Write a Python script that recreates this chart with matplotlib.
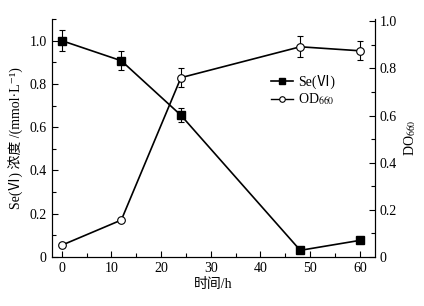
import matplotlib
matplotlib.use("Agg")
import matplotlib.pyplot as plt
from matplotlib.ticker import MultipleLocator
from matplotlib.lines import Line2D

plt.rcParams['font.family'] = ['Liberation Serif', 'Noto Sans CJK SC', 'DejaVu Serif']
plt.rcParams['mathtext.fontset'] = 'stix'

time_h = [0, 12, 24, 48, 60]
se_vi = [1.0, 0.907, 0.655, 0.031, 0.077]
se_err = [0.05, 0.045, 0.032, 0.0, 0.0]
od660 = [0.05, 0.157, 0.761, 0.892, 0.875]
od_err = [0.008, 0.0, 0.04, 0.045, 0.04]

xticks = [0, 10, 20, 30, 40, 50, 60]
yticks = [0, 0.2, 0.4, 0.6, 0.8, 1.0]
ytick_labels = ['0', '0.2', '0.4', '0.6', '0.8', '1.0']

fig = plt.figure(figsize=(4.24, 3.06), dpi=100)
ax = fig.add_axes([0.122, 0.160, 0.762, 0.778])
ax2 = ax.twinx()

ax.errorbar(time_h, se_vi, yerr=se_err, color='black', marker='s', ms=6,
            mfc='black', mec='black', lw=1.2, elinewidth=0.8, capsize=2.5,
            capthick=0.8)
ax2.errorbar(time_h, od660, yerr=od_err, color='black', marker='o', ms=5.5,
             mfc='white', mec='black', mew=0.8, lw=1.2, elinewidth=0.8,
             capsize=2.5, capthick=0.8)

ax.set_xlim(-2, 63)
ax.set_ylim(0, 1.10)
ax2.set_ylim(0, 1.01)
ax.set_xticks(xticks)
ax.xaxis.set_minor_locator(MultipleLocator(5))
ax.set_yticks(yticks)
ax.set_yticklabels(ytick_labels)
ax.yaxis.set_minor_locator(MultipleLocator(0.1))
ax2.set_yticks(yticks)
ax2.set_yticklabels(ytick_labels)
ax2.yaxis.set_minor_locator(MultipleLocator(0.1))

for a in (ax, ax2):
    a.tick_params(which='both', direction='in', labelsize=10)
    a.tick_params(which='major', length=4, width=0.8)
    a.tick_params(which='minor', length=3, width=0.8)
    a.spines['top'].set_visible(False)
ax.tick_params(axis='x', which='both', top=False)
ax.tick_params(axis='y', which='both', right=False)

ax.set_xlabel('时间/h', fontsize=10, labelpad=2)
ax.set_ylabel('Se(Ⅵ) 浓度 /(mmol·L⁻¹)', fontsize=10, labelpad=4)
ax2.set_ylabel('DO$_{660}$', fontsize=10, labelpad=4)

h1 = Line2D([], [], color='black', lw=1.2, marker='s', ms=4, mfc='black', mec='black')
h2 = Line2D([], [], color='black', lw=1.0, marker='o', ms=4, mfc='white', mec='black', mew=0.8)
ax2.legend([h1, h2], ['Se(Ⅵ)', 'OD$_{660}$'], loc='upper left',
           bbox_to_anchor=(0.66, 0.79), frameon=False, fontsize=10,
           handlelength=1.6, handletextpad=0.4, labelspacing=0.2,
           borderaxespad=0)

fig.savefig('out.png', dpi=100)
